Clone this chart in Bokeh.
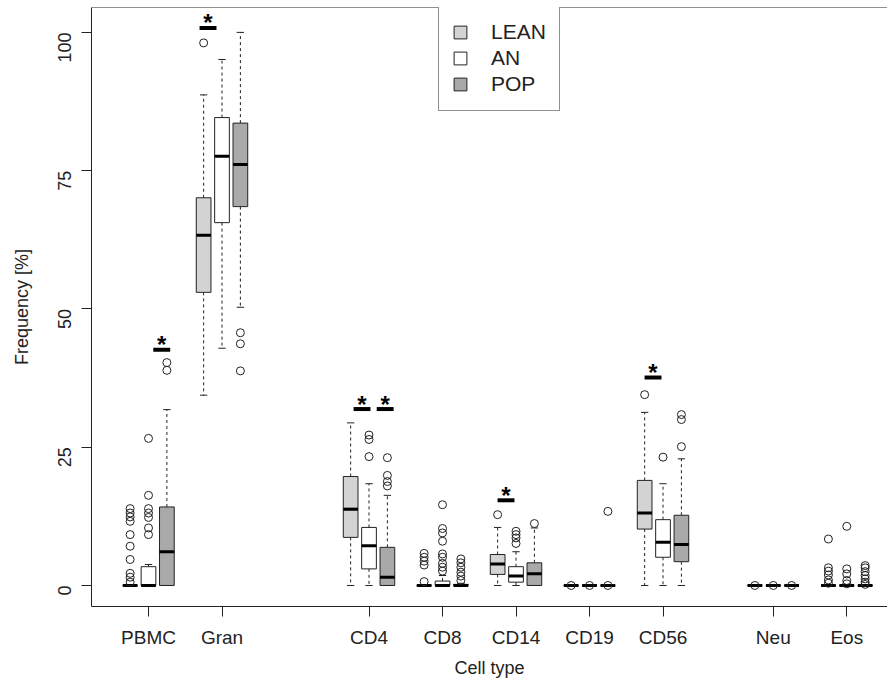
import math
from bokeh.plotting import figure
from bokeh.models import ColumnDataSource, FixedTicker, Legend, LegendItem, Range1d, Span
from bokeh.core.properties import value
from bokeh.embed import file_html
from bokeh.resources import INLINE

# ---------------- data ----------------
categories = ["PBMC", "Gran", "CD4", "CD8", "CD14", "CD19", "CD56", "Neu", "Eos"]
cat_pos = [1, 2, 4, 5, 6, 7, 8, 9.5, 10.5]
y_ticks = [0, 25, 50, 75, 100]

series_names = ["LEAN", "AN", "POP"]
series_offsets = [-0.25, 0.0, 0.25]
series_fill = ["#d3d3d3", "#ffffff", "#a9a9a9"]

# LEAN
lean_q1 = [0, 53.0, 8.7, 0, 2.0, 0, 10.2, 0, 0]
lean_med = [0, 63.3, 13.8, 0, 3.9, 0, 13.1, 0, 0]
lean_q3 = [0, 70.1, 19.7, 0, 5.6, 0, 19.0, 0, 0]
lean_lo = [0, 34.4, 0, 0, 0, 0, 0, 0, 0]
lean_hi = [0, 88.7, 29.4, 0, 10.5, 0, 31.3, 0, 0]
lean_out = [[13.9, 13.1, 12.4, 11.6, 9.2, 7.1, 4.7, 2.2, 1.5, 0.6],
            [98.1], [], [5.8, 5.1, 4.4, 3.7, 0.7], [12.8], [0.0], [34.5], [0.0],
            [8.4, 3.2, 2.6, 1.9, 1.0, 0.4]]

# AN
an_q1 = [0, 65.6, 3.0, 0, 0.6, 0, 5.1, 0, 0]
an_med = [0, 77.6, 7.2, 0, 1.7, 0, 7.8, 0, 0]
an_q3 = [3.4, 84.6, 10.5, 0.8, 3.4, 0, 11.9, 0, 0]
an_lo = [0, 42.9, 0, 0, 0, 0, 0, 0, 0]
an_hi = [3.8, 95.1, 18.4, 1.8, 6.1, 0, 18.4, 0, 0]
an_out = [[26.6, 16.3, 13.9, 13.1, 12.3, 10.4, 9.2],
          [], [27.2, 26.4, 23.3], [14.6, 10.3, 9.5, 8.0, 5.7, 5.1, 4.0, 3.3, 2.6],
          [9.8, 9.2, 8.6, 7.6], [0.0], [23.2], [0.0], [10.7, 3.0, 2.1, 0.9, 0.3]]

# POP
pop_q1 = [0, 68.5, 0, 0, 0, 0, 4.3, 0, 0]
pop_med = [6.1, 76.1, 1.5, 0, 2.1, 0, 7.4, 0, 0]
pop_q3 = [14.2, 83.6, 6.9, 0.2, 4.1, 0, 12.7, 0, 0]
pop_lo = [0, 50.3, 0, 0, 0, 0, 0, 0, 0]
pop_hi = [31.8, 100.0, 16.3, 0.4, 10.4, 0, 22.9, 0, 0]
pop_out = [[40.3, 38.9], [45.7, 43.7, 38.8], [23.1, 19.9, 18.8, 18.0],
           [4.8, 4.1, 3.3, 2.4, 1.7, 0.9], [11.2], [13.4, 0.0], [30.9, 30.0, 25.1],
           [0.0], [3.6, 3.2, 2.5, 1.8, 1.2, 0.6, 0.2]]

# significance markers (bar centre x, bar y)
sig_x = [1.18, 1.81, 3.905, 4.22, 5.864, 7.864]
sig_y = [42.6, 100.8, 31.9, 31.9, 15.4, 37.6]

# ---------------- figure ----------------
FONT = "Liberation Sans"
INK = "#222222"
BOX_W = 0.2
CAP_HW = 0.05
Y_LO, Y_HI = -3.8, 104.5

p = figure(width=887, height=680, output_backend="svg", toolbar_location=None,
           x_range=Range1d(0.2245, 11.054), y_range=Range1d(Y_LO, Y_HI),
           min_border_left=91, min_border_right=0, min_border_top=7, min_border_bottom=74)
p.outline_line_color = None
p.xgrid.visible = False
p.ygrid.visible = False
p.background_fill_color = "white"
p.border_fill_color = "white"

top_line = Span(location=Y_HI, dimension="width", line_color=INK, line_width=1)
p.add_layout(top_line)

series = [
    (lean_q1, lean_med, lean_q3, lean_lo, lean_hi, lean_out),
    (an_q1, an_med, an_q3, an_lo, an_hi, an_out),
    (pop_q1, pop_med, pop_q3, pop_lo, pop_hi, pop_out),
]

legend_items = []
for (q1, med, q3, lo, hi, out), name, off, fill in zip(series, series_names, series_offsets, series_fill):
    xs = [c + off for c in cat_pos]
    src = ColumnDataSource(dict(
        x=xs, q1=q1, med=med, q3=q3, lo=lo, hi=hi,
        cl=[x - CAP_HW for x in xs], cr=[x + CAP_HW for x in xs],
        bl=[x - BOX_W / 2 for x in xs], br=[x + BOX_W / 2 for x in xs],
    ))
    # whiskers
    p.segment(x0="x", y0="q3", x1="x", y1="hi", source=src, line_color=INK, line_width=1, line_dash="3 3")
    p.segment(x0="x", y0="q1", x1="x", y1="lo", source=src, line_color=INK, line_width=1, line_dash="3 3")
    # staples
    p.segment(x0="cl", y0="hi", x1="cr", y1="hi", source=src, line_color=INK, line_width=1)
    p.segment(x0="cl", y0="lo", x1="cr", y1="lo", source=src, line_color=INK, line_width=1)
    # boxes
    r = p.vbar(x="x", width=BOX_W, top="q3", bottom="q1", source=src,
               fill_color=fill, line_color=INK, line_width=1)
    legend_items.append(LegendItem(label=name, renderers=[r]))
    # medians
    p.segment(x0="bl", y0="med", x1="br", y1="med", source=src, line_color="black", line_width=3)
    # outliers
    ox, oy = [], []
    for x, vals in zip(xs, out):
        for v in vals:
            ox.append(x)
            oy.append(v)
    p.scatter(ox, oy, marker="circle", size=8, fill_color=None, line_color=INK, line_width=1)

# significance bars and asterisks
p.rect(x=sig_x, y=sig_y, width=0.23, height=4, height_units="screen",
       fill_color="black", line_color=None)
p.text(x=sig_x, y=sig_y, text=["*"] * len(sig_x), text_font=value(FONT),
       text_font_style="bold", text_font_size="24px", text_align="center",
       text_baseline="middle", text_color="black", y_offset=-5)

# axes
p.xaxis.ticker = FixedTicker(ticks=cat_pos)
p.xaxis.major_label_overrides = {float(c): n for c, n in zip(cat_pos, categories)}
p.yaxis.ticker = FixedTicker(ticks=y_ticks)
p.yaxis.major_label_orientation = math.pi / 2

for ax in (p.xaxis[0], p.yaxis[0]):
    ax.axis_line_color = INK
    ax.major_tick_line_color = INK
    ax.minor_tick_line_color = None
    ax.major_tick_in = 0
    ax.major_tick_out = 10
    ax.major_label_text_font = FONT
    ax.major_label_text_color = INK
    ax.axis_label_text_font = FONT
    ax.axis_label_text_font_style = "normal"
    ax.axis_label_text_font_size = "18px"
    ax.axis_label_text_color = INK

p.xaxis.major_label_standoff = 10
p.yaxis.major_label_standoff = 17
p.xaxis.major_label_text_font_size = "19px"
p.yaxis.major_label_text_font_size = "18px"
p.xaxis.axis_label = "Cell type"
p.yaxis.axis_label = "Frequency [%]"
p.xaxis.axis_label_standoff = 7
p.yaxis.axis_label_standoff = 17

legend = Legend(items=legend_items, location=(347, 495), orientation="vertical",
                label_text_font=FONT, label_text_font_size="21px", label_text_color=INK,
                glyph_width=16, glyph_height=16, label_height=26, label_width=55,
                label_standoff=23, spacing=0, padding=13, margin=0,
                border_line_color=INK, border_line_width=1,
                background_fill_color="white", background_fill_alpha=1.0)
p.add_layout(legend)

open("out.html", "w").write(file_html(p, INLINE))
